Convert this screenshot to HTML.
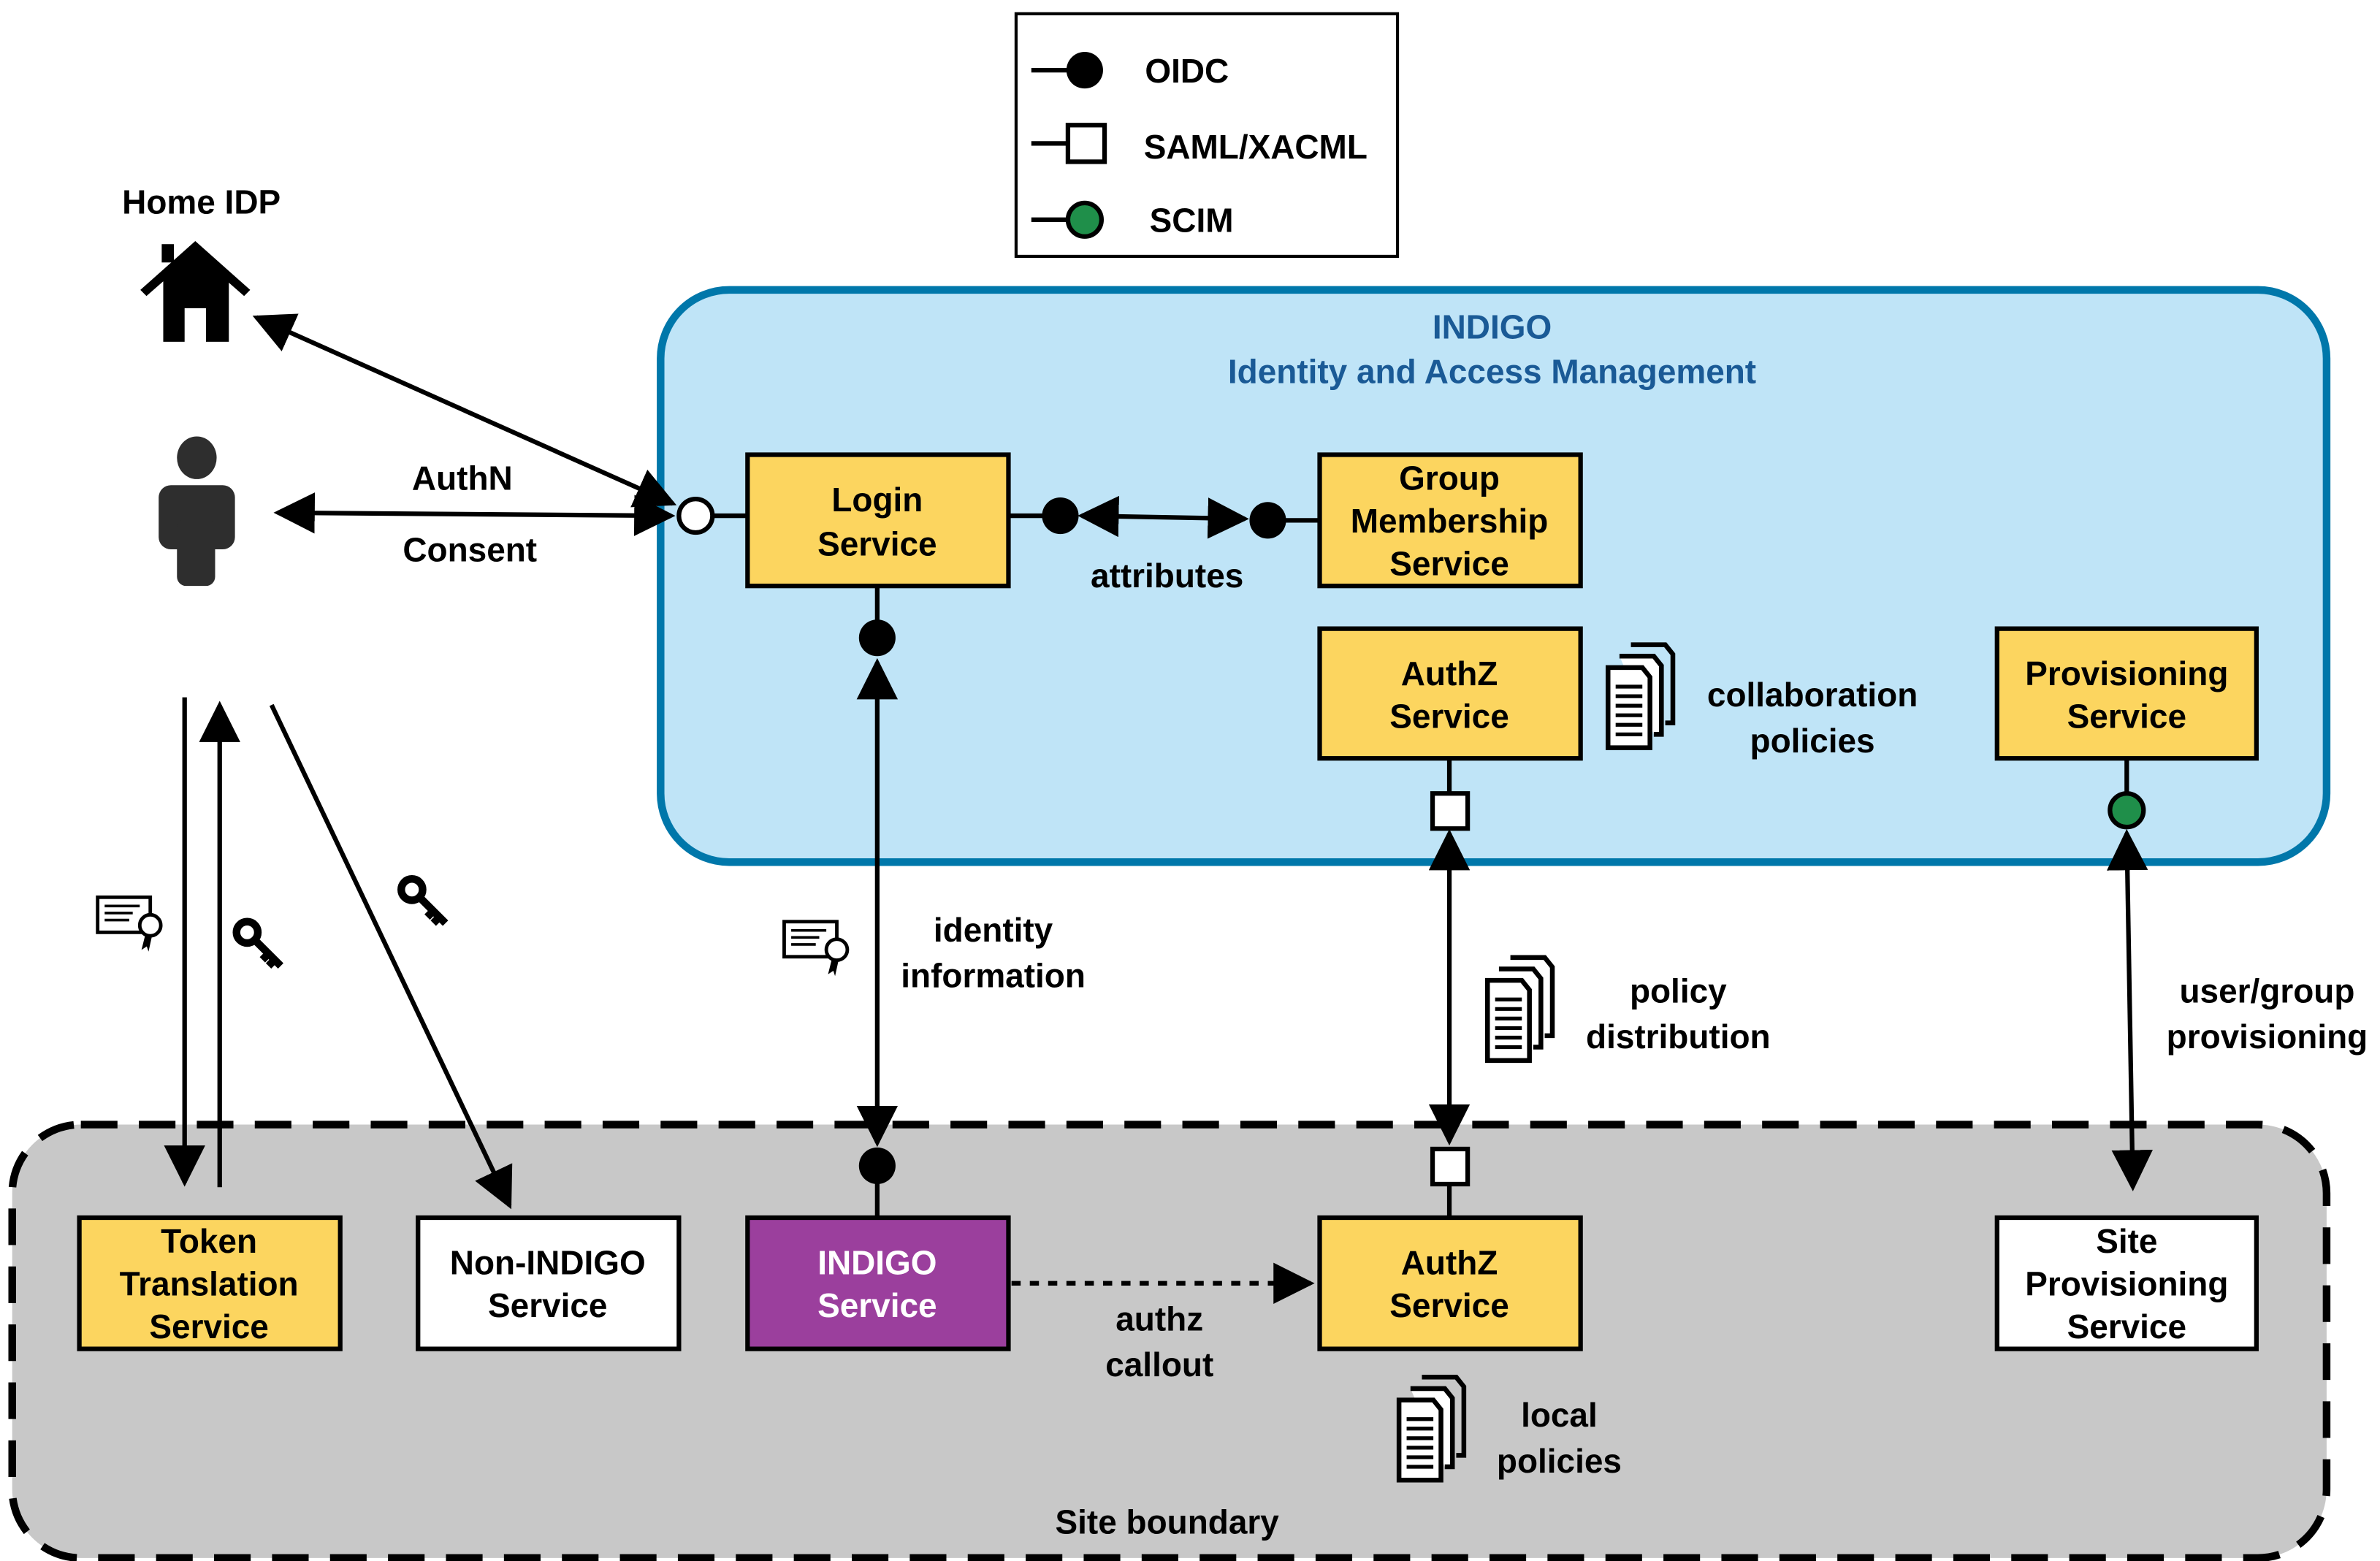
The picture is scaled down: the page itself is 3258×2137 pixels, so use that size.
<!DOCTYPE html>
<html><head><meta charset="utf-8"><style>html,body{margin:0;padding:0;background:#fff}svg{display:block}text{font-family:"Liberation Sans",Arial,sans-serif;font-weight:bold;font-size:22px;text-anchor:middle;fill:#000}</style></head>
<body>
<svg width="3258" height="2137" viewBox="0 0 1560 1023" preserveAspectRatio="none" xmlns="http://www.w3.org/2000/svg">
<defs>
<marker id="a" viewBox="0 0 10 10" refX="9" refY="5" markerWidth="9" markerHeight="9" orient="auto-start-reverse"><path d="M0,0 L10,5 L0,10 z" fill="#000"/></marker>
<g id="doc">
<path d="M12,-22 h18 l4,5 v36 h-4" fill="none" stroke="#000" stroke-width="2.5"/>
<path d="M6,-16 h18 l4,5 v36 h-4" fill="#fff" stroke="#000" stroke-width="2.5"/>
<path d="M0,-10 h18 l4,5 v37 h-22 z" fill="#fff" stroke="#000" stroke-width="2.5"/>
<path d="M4,0h14M4,5h14M4,10h14M4,15h14M4,20h14M4,25h14" stroke="#000" stroke-width="2"/>
</g>
<g id="cert">
<rect x="0" y="0" width="30" height="20" fill="#fff" stroke="#000" stroke-width="2"/>
<path d="M4,5h20M4,9h16M4,13h14" stroke="#000" stroke-width="1.5"/>
<circle cx="30" cy="16" r="6" fill="#fff" stroke="#000" stroke-width="2"/>
<path d="M27,22 l-2,8 3,-2 1,3 2,-9z" fill="#000"/>
</g>
<g id="key">
<circle cx="0" cy="0" r="7" fill="none" stroke="#000" stroke-width="5"/>
<path d="M5,5 L22,22 M14,14 l-4,4 M18,18 l-4,4" stroke="#000" stroke-width="5"/>
</g>
</defs>

<rect x="666" y="9" width="250" height="159" fill="#fff" stroke="#000" stroke-width="2"/>
<line x1="676" y1="46" x2="700" y2="46" stroke="#000" stroke-width="3"/><circle cx="711" cy="46" r="12" fill="#000"/>
<text x="778" y="54">OIDC</text>
<line x1="676" y1="94" x2="700" y2="94" stroke="#000" stroke-width="3"/><rect x="700" y="82" width="24" height="24" fill="#fff" stroke="#000" stroke-width="3"/>
<text x="823" y="104">SAML/XACML</text>
<line x1="676" y1="144" x2="700" y2="144" stroke="#000" stroke-width="3"/><circle cx="711" cy="144" r="11" fill="#1f8f4a" stroke="#000" stroke-width="3"/>
<text x="781" y="152">SCIM</text>

<text x="132" y="140">Home IDP</text>
<path d="M92,190 L128,158 L164,190 L160,194 L128,166 L96,194z" fill="#000"/>
<rect x="106" y="160" width="8" height="12" fill="#000"/>
<path d="M107,182 L128,164 L150,182 V224 H135 V202 H121 V224 H107z" fill="#000"/>

<ellipse cx="129" cy="300" rx="13" ry="14" fill="#2e2e2e"/>
<rect x="104" y="318" width="50" height="42" rx="8" fill="#2e2e2e"/>
<rect x="116" y="340" width="25" height="44" rx="6" fill="#2e2e2e"/>

<rect x="433" y="190" width="1092" height="375" rx="45" fill="#bfe4f7" stroke="#0077aa" stroke-width="5"/>
<text x="978" y="222" style="fill:#1a5a96">INDIGO</text>
<text x="978" y="251" style="fill:#1a5a96">Identity and Access Management</text>

<rect x="8" y="737" width="1517" height="284" rx="45" fill="#c8c8c8" stroke="#000" stroke-width="5" stroke-dasharray="24,14"/>
<text x="765" y="1005">Site boundary</text>

<g stroke="#000" stroke-width="3">
<rect x="490" y="298" width="171" height="86" fill="#fcd55f"/>
<rect x="865" y="298" width="171" height="86" fill="#fcd55f"/>
<rect x="865" y="412" width="171" height="85" fill="#fcd55f"/>
<rect x="1309" y="412" width="170" height="85" fill="#fcd55f"/>
<rect x="52" y="798" width="171" height="86" fill="#fcd55f"/>
<rect x="274" y="798" width="171" height="86" fill="#fff"/>
<rect x="490" y="798" width="171" height="86" fill="#9b3f9d"/>
<rect x="865" y="798" width="171" height="86" fill="#fcd55f"/>
<rect x="1309" y="798" width="170" height="86" fill="#fff"/>
</g>
<text x="575" y="335">Login</text><text x="575" y="364">Service</text>
<text x="950" y="321">Group</text><text x="950" y="349">Membership</text><text x="950" y="377">Service</text>
<text x="950" y="449">AuthZ</text><text x="950" y="477">Service</text>
<text x="1394" y="449">Provisioning</text><text x="1394" y="477">Service</text>
<text x="137" y="821">Token</text><text x="137" y="849">Translation</text><text x="137" y="877">Service</text>
<text x="359" y="835">Non-INDIGO</text><text x="359" y="863">Service</text>
<text x="575" y="835" style="fill:#fff">INDIGO</text><text x="575" y="863" style="fill:#fff">Service</text>
<text x="950" y="835">AuthZ</text><text x="950" y="863">Service</text>
<text x="1394" y="821">Site</text><text x="1394" y="849">Provisioning</text><text x="1394" y="877">Service</text>

<g stroke="#000" stroke-width="3" fill="none">
<line x1="467" y1="338" x2="490" y2="338"/>
<line x1="661" y1="338" x2="695" y2="338"/>
<line x1="831" y1="341" x2="865" y2="341"/>
<line x1="575" y1="384" x2="575" y2="418"/>
<line x1="950" y1="497" x2="950" y2="520"/>
<line x1="1394" y1="497" x2="1394" y2="531"/>
<line x1="575" y1="764" x2="575" y2="798"/>
<line x1="950" y1="776" x2="950" y2="798"/>
<line x1="709" y1="338" x2="816" y2="340" marker-start="url(#a)" marker-end="url(#a)"/>
<line x1="182" y1="336" x2="440" y2="338" marker-start="url(#a)" marker-end="url(#a)"/>
<line x1="168" y1="208" x2="441" y2="330" marker-start="url(#a)" marker-end="url(#a)"/>
<line x1="575" y1="434" x2="575" y2="749" marker-start="url(#a)" marker-end="url(#a)"/>
<line x1="950" y1="546" x2="950" y2="748" marker-start="url(#a)" marker-end="url(#a)"/>
<line x1="1394" y1="546" x2="1398" y2="778" marker-start="url(#a)" marker-end="url(#a)"/>
<line x1="121" y1="457" x2="121" y2="775" marker-end="url(#a)"/>
<line x1="144" y1="778" x2="144" y2="462" marker-end="url(#a)"/>
<line x1="178" y1="462" x2="334" y2="790" marker-end="url(#a)"/>
<line x1="663" y1="841" x2="859" y2="841" stroke-dasharray="6,6" marker-end="url(#a)"/>
</g>
<circle cx="456" cy="338" r="11" fill="#fff" stroke="#000" stroke-width="3"/>
<circle cx="695" cy="338" r="12" fill="#000"/>
<circle cx="831" cy="341" r="12" fill="#000"/>
<circle cx="575" cy="418" r="12" fill="#000"/>
<rect x="939" y="520" width="23" height="23" fill="#fff" stroke="#000" stroke-width="3"/>
<circle cx="1394" cy="531" r="11" fill="#1f8f4a" stroke="#000" stroke-width="3"/>
<circle cx="575" cy="764" r="12" fill="#000"/>
<rect x="939" y="753" width="23" height="23" fill="#fff" stroke="#000" stroke-width="3"/>

<text x="303" y="321">AuthN</text>
<text x="308" y="368">Consent</text>
<text x="765" y="385">attributes</text>
<text x="1188" y="463">collaboration</text><text x="1188" y="493">policies</text>
<text x="651" y="617">identity</text><text x="651" y="647">information</text>
<text x="1100" y="657">policy</text><text x="1100" y="687">distribution</text>
<text x="1486" y="657">user/group</text><text x="1486" y="687">provisioning</text>
<text x="760" y="872">authz</text><text x="760" y="902">callout</text>
<text x="1022" y="935">local</text><text x="1022" y="965">policies</text>

<use href="#doc" transform="translate(1054,450) scale(1.25)"/>
<use href="#doc" transform="translate(975,655) scale(1.25)"/>
<use href="#doc" transform="translate(917,930) scale(1.25)"/>
<use href="#cert" transform="translate(64,588) scale(1.15)"/>
<use href="#cert" transform="translate(514,604) scale(1.15)"/>
<use href="#key" x="162" y="611"/>
<use href="#key" x="270" y="583"/>
</svg>
</body></html>
